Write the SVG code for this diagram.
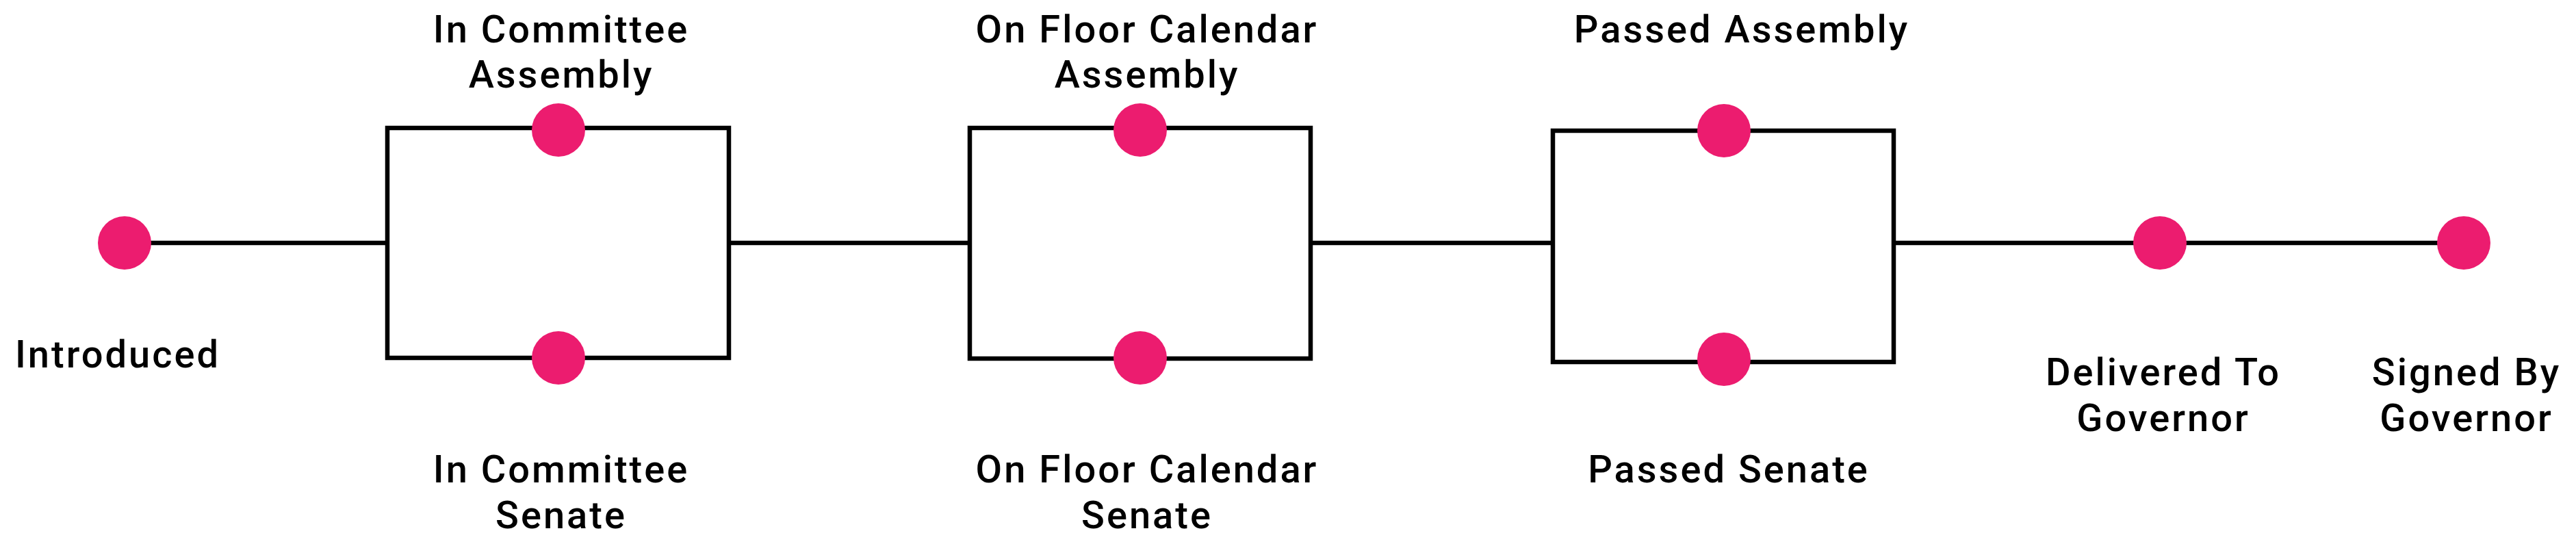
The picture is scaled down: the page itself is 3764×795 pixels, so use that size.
<svg xmlns="http://www.w3.org/2000/svg" width="3764" height="795" viewBox="0 0 3764 795">
<style>
.ln{fill:none;stroke:#000;stroke-width:6.5}
.dot{fill:#EC1C6F}
.lbl{font-family:Roboto,"Liberation Sans",sans-serif;font-weight:500;font-size:56px;letter-spacing:3px;fill:#000;text-anchor:middle}
</style>
<rect width="3764" height="795" fill="#fff"/>
<g id="connectors">
<line class="ln" x1="182" y1="355" x2="566" y2="355"/>
<rect class="ln" x="566" y="187" width="499" height="336"/>
<line class="ln" x1="1065" y1="355" x2="1417" y2="355"/>
<rect class="ln" x="1417" y="187" width="498" height="337"/>
<line class="ln" x1="1915" y1="355" x2="2269" y2="355"/>
<rect class="ln" x="2269" y="191" width="498" height="338"/>
<line class="ln" x1="2767" y1="355" x2="3600" y2="355"/>
</g>
<g id="introduced">
<circle class="dot" cx="182" cy="355" r="39"/>
<text class="lbl" x="172" y="537">Introduced</text>
</g>
<g id="committee-assembly">
<circle class="dot" cx="816" cy="190" r="39"/>
<text class="lbl" x="820" y="62">In Committee</text>
<text class="lbl" x="820" y="128">Assembly</text>
</g>
<g id="committee-senate">
<circle class="dot" cx="816" cy="523" r="39"/>
<text class="lbl" x="820" y="705">In Committee</text>
<text class="lbl" x="820" y="772">Senate</text>
</g>
<g id="floor-assembly">
<circle class="dot" cx="1666" cy="190" r="39"/>
<text class="lbl" x="1676" y="62">On Floor Calendar</text>
<text class="lbl" x="1676" y="128">Assembly</text>
</g>
<g id="floor-senate">
<circle class="dot" cx="1666" cy="523" r="39"/>
<text class="lbl" x="1676" y="705">On Floor Calendar</text>
<text class="lbl" x="1676" y="772">Senate</text>
</g>
<g id="passed-assembly">
<circle class="dot" cx="2519" cy="191" r="39"/>
<text class="lbl" x="2545" y="62">Passed Assembly</text>
</g>
<g id="passed-senate">
<circle class="dot" cx="2519" cy="525" r="39"/>
<text class="lbl" x="2526" y="705">Passed Senate</text>
</g>
<g id="delivered">
<circle class="dot" cx="3156" cy="355" r="39"/>
<text class="lbl" x="3161" y="563">Delivered To</text>
<text class="lbl" x="3161" y="630">Governor</text>
</g>
<g id="signed">
<circle class="dot" cx="3600" cy="355" r="39"/>
<text class="lbl" x="3604" y="563">Signed By</text>
<text class="lbl" x="3604" y="630">Governor</text>
</g>
</svg>
